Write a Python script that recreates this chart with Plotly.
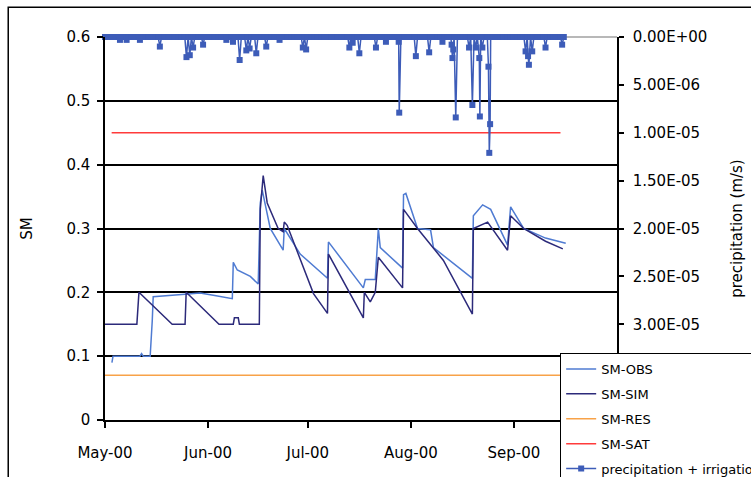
import plotly.graph_objects as go
import pandas as pd

# ---------------- data ----------------
obs_time = ["2000-05-03 02:00", "2000-05-03 10:00", "2000-05-11 12:00", "2000-05-12 00:00", "2000-05-12 12:00",
            "2000-05-14 14:00", "2000-05-15 05:00", "2000-05-15 12:00", "2000-05-25 02:00", "2000-05-29 14:00",
            "2000-06-03 00:00", "2000-06-08 07:00", "2000-06-08 14:00", "2000-06-09 19:00", "2000-06-13 17:00",
            "2000-06-16 02:00", "2000-06-16 17:00", "2000-06-17 07:00", "2000-06-19 17:00", "2000-06-23 14:00",
            "2000-06-23 22:00", "2000-06-28 17:00", "2000-07-06 22:00", "2000-07-07 05:00", "2000-07-17 17:00",
            "2000-07-18 07:00", "2000-07-21 07:00", "2000-07-22 05:00", "2000-07-22 19:00", "2000-07-29 12:00",
            "2000-07-29 19:00", "2000-07-30 12:00", "2000-08-03 00:00", "2000-08-06 22:00", "2000-08-07 19:00",
            "2000-08-19 12:00", "2000-08-19 19:00", "2000-08-22 14:00", "2000-08-25 00:00", "2000-08-30 02:00",
            "2000-08-31 00:00", "2000-09-03 22:00", "2000-09-10 12:00", "2000-09-16 14:00"]
obs_sm = [0.09, 0.10, 0.10, 0.104, 0.10,
          0.10, 0.155, 0.193, 0.197, 0.199,
          0.195, 0.19, 0.247, 0.235, 0.225,
          0.213, 0.34, 0.36, 0.30, 0.266,
          0.30, 0.26, 0.222, 0.279, 0.207,
          0.22, 0.22, 0.30, 0.27, 0.238,
          0.353, 0.355, 0.30, 0.298, 0.27,
          0.222, 0.32, 0.337, 0.33, 0.274,
          0.334, 0.30, 0.285, 0.277]

sim_time = ["2000-05-01 00:00", "2000-05-10 14:00", "2000-05-11 05:00", "2000-05-21 05:00", "2000-05-25 02:00",
            "2000-05-25 10:00", "2000-06-04 07:00", "2000-06-08 14:00", "2000-06-08 22:00", "2000-06-10 02:00",
            "2000-06-10 10:00", "2000-06-16 10:00", "2000-06-16 17:00", "2000-06-17 14:00", "2000-06-18 19:00",
            "2000-06-22 02:00", "2000-06-23 14:00", "2000-06-23 22:00", "2000-06-24 19:00", "2000-07-02 17:00",
            "2000-07-06 22:00", "2000-07-07 05:00", "2000-07-17 17:00", "2000-07-18 00:00", "2000-07-19 19:00",
            "2000-07-21 07:00", "2000-07-22 05:00", "2000-07-29 12:00", "2000-07-29 19:00", "2000-08-03 00:00",
            "2000-08-10 19:00", "2000-08-19 12:00", "2000-08-19 19:00", "2000-08-24 02:00", "2000-08-30 02:00",
            "2000-08-31 00:00", "2000-09-03 22:00", "2000-09-10 12:00", "2000-09-15 17:00"]
sim_sm = [0.15, 0.15, 0.20, 0.15, 0.15,
          0.20, 0.15, 0.15, 0.16, 0.16,
          0.15, 0.15, 0.33, 0.383, 0.34,
          0.30, 0.295, 0.31, 0.305, 0.198,
          0.167, 0.26, 0.16, 0.20, 0.185,
          0.20, 0.255, 0.207, 0.33, 0.30,
          0.25, 0.166, 0.30, 0.31, 0.266,
          0.32, 0.30, 0.28, 0.268]

res_time = ["2000-05-01", "2000-09-16"]
res_sm = [0.07, 0.07]
sat_time = ["2000-05-03", "2000-09-15"]
sat_sm = [0.45, 0.45]

season_start = "2000-05-01"
season_end = "2000-09-16"
precip_time = ["2000-05-05 12:00", "2000-05-07 12:00", "2000-05-11 12:00", "2000-05-17 12:00", "2000-05-25 12:00",
               "2000-05-26 12:00", "2000-05-27 12:00", "2000-05-30 12:00", "2000-06-06 12:00", "2000-06-08 12:00",
               "2000-06-10 12:00", "2000-06-12 12:00", "2000-06-13 12:00", "2000-06-15 12:00", "2000-06-18 12:00",
               "2000-06-22 12:00", "2000-06-29 12:00", "2000-06-30 12:00", "2000-07-13 12:00", "2000-07-14 12:00",
               "2000-07-16 12:00", "2000-07-21 12:00", "2000-07-24 12:00", "2000-07-28 08:00", "2000-07-28 12:00",
               "2000-08-02 12:00", "2000-08-06 12:00", "2000-08-10 12:00", "2000-08-13 06:00", "2000-08-13 12:00",
               "2000-08-13 18:00", "2000-08-14 12:00", "2000-08-18 12:00", "2000-08-19 12:00", "2000-08-20 12:00",
               "2000-08-21 14:00", "2000-08-21 18:00", "2000-08-22 12:00", "2000-08-24 08:00", "2000-08-24 14:00",
               "2000-08-24 20:00", "2000-09-04 12:00", "2000-09-05 06:00", "2000-09-05 12:00", "2000-09-06 12:00",
               "2000-09-10 12:00", "2000-09-15 12:00"]
precip_rate = [3e-7, 3e-7, 3e-7, 1.0e-6, 2.1e-6,
               1.9e-6, 1.1e-6, 8e-7, 3e-7, 5e-7,
               2.4e-6, 1.4e-6, 1.2e-6, 1.7e-6, 1.0e-6,
               3e-7, 1.1e-6, 1.3e-6, 1.1e-6, 6e-7,
               1.7e-6, 1.1e-6, 5e-7, 5e-7, 7.9e-6,
               2.0e-6, 1.6e-6, 5e-7, 8e-7, 2.2e-6,
               1.3e-6, 8.4e-6, 1.1e-6, 7.1e-6, 1.1e-6,
               2.2e-6, 8.3e-6, 1.1e-6, 3.1e-6, 1.21e-5,
               9.1e-6, 1.5e-6, 2.0e-6, 2.9e-6, 1.5e-6,
               1.1e-6, 8e-7]

month_ticks = ["2000-05-01", "2000-06-01", "2000-07-01", "2000-08-01", "2000-09-01", "2000-10-01"]
month_labels = ["May-00", "Jun-00", "Jul-00", "Aug-00", "Sep-00", "Oct-00"]
sm_ticks = [0, 0.1, 0.2, 0.3, 0.4, 0.5, 0.6]
sm_labels = ["0", "0.1", "0.2", "0.3", "0.4", "0.5", "0.6"]
p_ticks = [0, 5e-6, 1e-5, 1.5e-5, 2e-5, 2.5e-5, 3e-5, 3.5e-5, 4e-5]
p_labels = ["0.00E+00", "5.00E-06", "1.00E-05", "1.50E-05", "2.00E-05", "2.50E-05", "3.00E-05", "3.50E-05", "4.00E-05"]

C_OBS = "#4f7bd2"
C_SIM = "#2c2a7a"
C_RES = "#f8a248"
C_SAT = "#ff3b3b"
C_PRE = "#3d5cb8"
FONT = "DejaVu Sans"

# precipitation series: dry days at zero plus read events
base = pd.DataFrame({"t": pd.date_range(season_start, season_end, freq="D"), "v": 0.0})
events = pd.DataFrame({"t": pd.to_datetime(precip_time), "v": precip_rate})
pre = pd.concat([base, events]).sort_values("t")

fig = go.Figure()
fig.add_trace(go.Scatter(x=obs_time, y=obs_sm, name="SM-OBS", mode="lines",
                         line=dict(color=C_OBS, width=1.5), legendgroup="g1"))
fig.add_trace(go.Scatter(x=sim_time, y=sim_sm, name="SM-SIM", mode="lines",
                         line=dict(color=C_SIM, width=1.5), legendgroup="g2"))
fig.add_trace(go.Scatter(x=res_time, y=res_sm, name="SM-RES", mode="lines",
                         line=dict(color=C_RES, width=1.5), legendgroup="g3"))
fig.add_trace(go.Scatter(x=sat_time, y=sat_sm, name="SM-SAT", mode="lines",
                         line=dict(color=C_SAT, width=1.5), legendgroup="g4"))
fig.add_trace(go.Scatter(x=pre["t"], y=pre["v"], name="precipitation + irrigation", mode="lines+markers",
                         line=dict(color=C_PRE, width=1.5), marker=dict(symbol="square", size=6, color=C_PRE),
                         cliponaxis=False, yaxis="y2", legendgroup="g5"))

fig.update_layout(
    width=751, height=477,
    margin=dict(l=105, r=134, t=37, b=57, autoexpand=False),
    paper_bgcolor="white", plot_bgcolor="white",
    font=dict(family=FONT, size=15, color="black"),
    showlegend=True,
    xaxis=dict(type="date", range=["2000-05-01", "2000-10-02"], tickvals=month_ticks, ticktext=month_labels,
               showgrid=False, zeroline=False, showline=True, linecolor="black", linewidth=1.5,
               ticks="outside", ticklen=6, tickcolor="black", tickwidth=1.5, ticklabelstandoff=12),
    yaxis=dict(range=[0, 0.6], tickvals=sm_ticks, ticktext=sm_labels, showgrid=True, gridcolor="black",
               gridwidth=1.5, zeroline=False, showline=True, linecolor="black", linewidth=1.5,
               ticks="outside", ticklen=6, tickcolor="black", tickwidth=1.5, ticklabelstandoff=4,
               title=dict(text="SM", standoff=30, font=dict(size=15))),
    yaxis2=dict(overlaying="y", side="right", range=[4e-5, 0], tickvals=p_ticks, ticktext=p_labels,
                showgrid=False, zeroline=False, showline=True, linecolor="black", linewidth=1.5,
                ticks="outside", ticklen=5, tickcolor="black", tickwidth=1.5, ticklabelstandoff=6,
                title=dict(text="precipitation (m/s)", standoff=25, font=dict(size=15))),
    legend=dict(x=0.889, y=0.175, xanchor="left", yanchor="top", bgcolor="white", bordercolor="black",
                borderwidth=1, font=dict(family=FONT, size=13), tracegroupgap=5, traceorder="grouped"),
    shapes=[
        dict(type="line", xref="paper", yref="paper", x0=0, x1=1, y0=1, y1=1,
             line=dict(color="#a0a0a0", width=1.5), layer="below"),
        dict(type="rect", xref="paper", yref="paper", x0=-0.189, x1=1.35, y0=-0.25, y1=1.078,
             line=dict(color="black", width=1.5), layer="above"),
    ],
)

fig.write_html("out.html", config={"displayModeBar": False},
               post_script="document.body.style.margin='0';document.body.style.padding='0';"
                           "document.body.style.overflow='hidden';")
